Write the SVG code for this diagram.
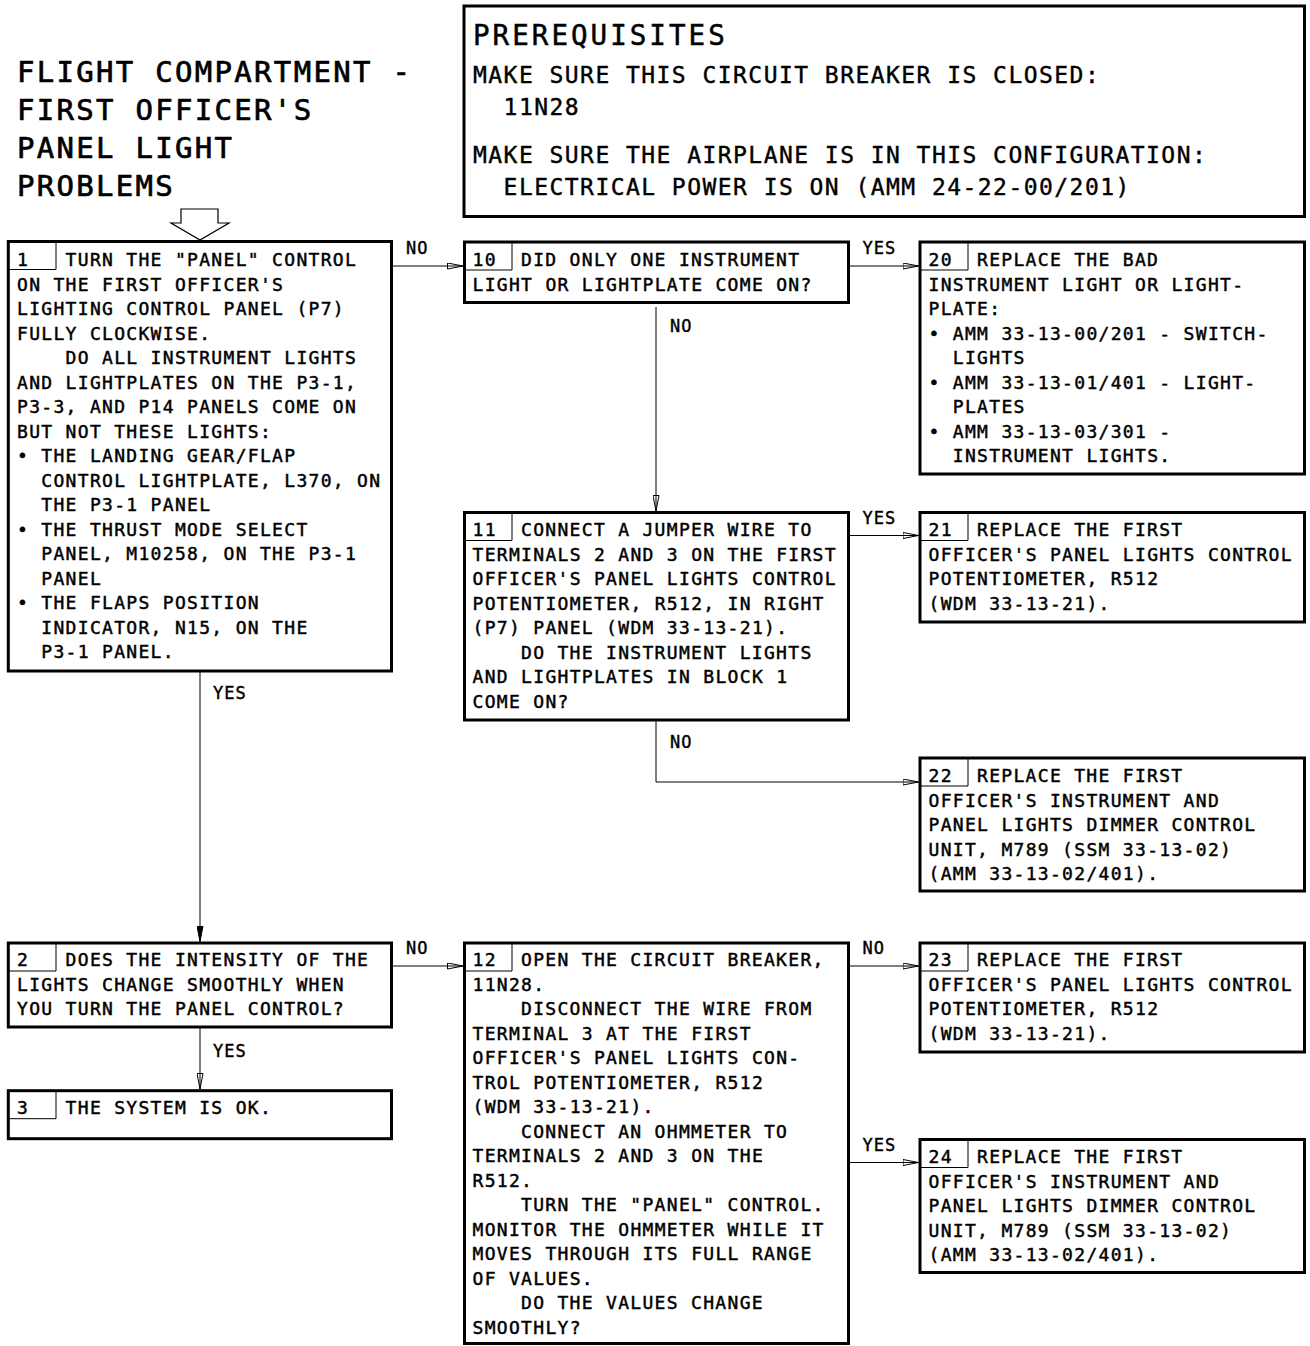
<svg xmlns="http://www.w3.org/2000/svg" width="1310" height="1346" viewBox="0 0 1310 1346">
<style>
.bg{fill:#fff}
.box{fill:none;stroke:#000;stroke-width:3}
.cell{fill:none;stroke:#000;stroke-width:1}
.t{font-family:"DejaVu Sans Mono",monospace;font-size:18px;letter-spacing:1.31px;fill:#000;stroke:#000;stroke-width:0.45px}
.h{font-family:"DejaVu Sans Mono",monospace;font-size:29px;letter-spacing:2.3px;fill:#000;stroke:#000;stroke-width:0.7px}
.ph{font-family:"DejaVu Sans Mono",monospace;font-size:27.5px;letter-spacing:3.04px;fill:#000;stroke:#000;stroke-width:0.5px}
.pb{font-family:"DejaVu Sans Mono",monospace;font-size:23px;letter-spacing:1.45px;fill:#000;stroke:#000;stroke-width:0.4px}
.l{font-family:"DejaVu Sans Mono",monospace;font-size:17px;letter-spacing:1px;fill:#000;stroke:#000;stroke-width:0.4px}
.c{fill:none;stroke:#000;stroke-width:1}
</style>
<defs>
<marker id="ah" viewBox="0 0 16 7" refX="16" refY="3.5" markerWidth="16" markerHeight="7" orient="auto" markerUnits="userSpaceOnUse">
<path d="M0.5,0.5 L16,3.5 L0.5,6.5 Z" fill="none" stroke="#000" stroke-width="1"/>
</marker>
<marker id="ahf" viewBox="0 0 16 7" refX="16" refY="3.5" markerWidth="16" markerHeight="7" orient="auto" markerUnits="userSpaceOnUse">
<path d="M0.5,0.5 L16,3.5 L0.5,6.5 Z" fill="#000" stroke="#000" stroke-width="1"/>
</marker>
</defs>
<rect class="bg" x="0" y="0" width="1310" height="1346"/>

<g id="title">
<text class="h" x="17" y="82">FLIGHT COMPARTMENT -</text>
<text class="h" x="17" y="120">FIRST OFFICER'S</text>
<text class="h" x="17" y="158">PANEL LIGHT</text>
<text class="h" x="17" y="195.5">PROBLEMS</text>
<polygon points="181,209 218,209 218,223 229,223 200,240 171,223 181,223" fill="#fff" stroke="#000" stroke-width="1.2"/>
</g>

<g id="prereq">
<rect class="box" x="464" y="6" width="840.5" height="210.5"/>
<text class="ph" x="473" y="45">PREREQUISITES</text>
<text class="pb" x="473" y="83">MAKE SURE THIS CIRCUIT BREAKER IS CLOSED:</text>
<text class="pb" x="503.6" y="115">11N28</text>
<text class="pb" x="473" y="163">MAKE SURE THE AIRPLANE IS IN THIS CONFIGURATION:</text>
<text class="pb" x="503.6" y="195">ELECTRICAL POWER IS ON (AMM 24-22-00/201)</text>
</g>

<g id="connectors">
<line class="c" x1="391.5" y1="266" x2="463" y2="266" marker-end="url(#ah)"/>
<text class="l" x="406" y="254">NO</text>
<line class="c" x1="848.5" y1="266" x2="918.5" y2="266" marker-end="url(#ah)"/>
<text class="l" x="862.5" y="254">YES</text>
<line class="c" x1="656" y1="307" x2="656" y2="511" marker-end="url(#ah)"/>
<text class="l" x="670" y="332">NO</text>
<line class="c" x1="848.5" y1="535.5" x2="918.5" y2="535.5" marker-end="url(#ah)"/>
<text class="l" x="862.5" y="524">YES</text>
<polyline class="c" points="656,720 656,782 918.5,782" marker-end="url(#ah)"/>
<text class="l" x="670" y="748">NO</text>
<line class="c" x1="200" y1="671" x2="200" y2="941.5" marker-end="url(#ahf)"/>
<text class="l" x="213" y="699">YES</text>
<line class="c" x1="200" y1="1027" x2="200" y2="1089" marker-end="url(#ah)"/>
<text class="l" x="213" y="1056.7">YES</text>
<line class="c" x1="391.5" y1="966" x2="463" y2="966" marker-end="url(#ah)"/>
<text class="l" x="406" y="954">NO</text>
<line class="c" x1="848.5" y1="966" x2="918.5" y2="966" marker-end="url(#ah)"/>
<text class="l" x="862.5" y="954">NO</text>
<line class="c" x1="848.5" y1="1162.5" x2="918.5" y2="1162.5" marker-end="url(#ah)"/>
<text class="l" x="862.5" y="1151">YES</text>
</g>

<g id="node1">
<rect class="box" x="8.3" y="241.5" width="383.2" height="429.5"/>
<path class="cell" d="M8.3,269.5 H56 V241.5"/>
<text class="t" x="17" y="266">1</text>
<text class="t" x="65.6" y="266">TURN THE "PANEL" CONTROL</text>
<text class="t" y="266">
<tspan x="17" dy="24.5">ON THE FIRST OFFICER'S</tspan>
<tspan x="17" dy="24.5">LIGHTING CONTROL PANEL (P7)</tspan>
<tspan x="17" dy="24.5">FULLY CLOCKWISE.</tspan>
<tspan x="65.6" dy="24.5">DO ALL INSTRUMENT LIGHTS</tspan>
<tspan x="17" dy="24.5">AND LIGHTPLATES ON THE P3-1,</tspan>
<tspan x="17" dy="24.5">P3-3, AND P14 PANELS COME ON</tspan>
<tspan x="17" dy="24.5">BUT NOT THESE LIGHTS:</tspan>
<tspan x="17" dy="24.5">•</tspan><tspan x="41.3">THE LANDING GEAR/FLAP</tspan>
<tspan x="41.3" dy="24.5">CONTROL LIGHTPLATE, L370, ON</tspan>
<tspan x="41.3" dy="24.5">THE P3-1 PANEL</tspan>
<tspan x="17" dy="24.5">•</tspan><tspan x="41.3">THE THRUST MODE SELECT</tspan>
<tspan x="41.3" dy="24.5">PANEL, M10258, ON THE P3-1</tspan>
<tspan x="41.3" dy="24.5">PANEL</tspan>
<tspan x="17" dy="24.5">•</tspan><tspan x="41.3">THE FLAPS POSITION</tspan>
<tspan x="41.3" dy="24.5">INDICATOR, N15, ON THE</tspan>
<tspan x="41.3" dy="24.5">P3-1 PANEL.</tspan>
</text>
</g>

<g id="node10">
<rect class="box" x="464.5" y="242" width="384" height="60.5"/>
<path class="cell" d="M464.5,270 H512 V242"/>
<text class="t" x="472.5" y="266">10</text>
<text class="t" x="521" y="266">DID ONLY ONE INSTRUMENT</text>
<text class="t" x="472.5" y="290.5">LIGHT OR LIGHTPLATE COME ON?</text>
</g>

<g id="node20">
<rect class="box" x="920" y="242" width="384.5" height="232"/>
<path class="cell" d="M920,270 H968 V242"/>
<text class="t" x="928.5" y="266">20</text>
<text class="t" x="977" y="266">REPLACE THE BAD</text>
<text class="t" y="266">
<tspan x="928.5" dy="24.5">INSTRUMENT LIGHT OR LIGHT-</tspan>
<tspan x="928.5" dy="24.5">PLATE:</tspan>
<tspan x="928.5" dy="24.5">•</tspan><tspan x="952.8">AMM 33-13-00/201 - SWITCH-</tspan>
<tspan x="952.8" dy="24.5">LIGHTS</tspan>
<tspan x="928.5" dy="24.5">•</tspan><tspan x="952.8">AMM 33-13-01/401 - LIGHT-</tspan>
<tspan x="952.8" dy="24.5">PLATES</tspan>
<tspan x="928.5" dy="24.5">•</tspan><tspan x="952.8">AMM 33-13-03/301 -</tspan>
<tspan x="952.8" dy="24.5">INSTRUMENT LIGHTS.</tspan>
</text>
</g>

<g id="node11">
<rect class="box" x="464.5" y="512.5" width="384" height="207.5"/>
<path class="cell" d="M464.5,540.5 H512 V512.5"/>
<text class="t" x="472.5" y="536">11</text>
<text class="t" x="521" y="536">CONNECT A JUMPER WIRE TO</text>
<text class="t" y="536">
<tspan x="472.5" dy="24.5">TERMINALS 2 AND 3 ON THE FIRST</tspan>
<tspan x="472.5" dy="24.5">OFFICER'S PANEL LIGHTS CONTROL</tspan>
<tspan x="472.5" dy="24.5">POTENTIOMETER, R512, IN RIGHT</tspan>
<tspan x="472.5" dy="24.5">(P7) PANEL (WDM 33-13-21).</tspan>
<tspan x="521" dy="24.5">DO THE INSTRUMENT LIGHTS</tspan>
<tspan x="472.5" dy="24.5">AND LIGHTPLATES IN BLOCK 1</tspan>
<tspan x="472.5" dy="24.5">COME ON?</tspan>
</text>
</g>

<g id="node21">
<rect class="box" x="920" y="512.5" width="384.5" height="109.5"/>
<path class="cell" d="M920,540.5 H968 V512.5"/>
<text class="t" x="928.5" y="536">21</text>
<text class="t" x="977" y="536">REPLACE THE FIRST</text>
<text class="t" y="536">
<tspan x="928.5" dy="24.5">OFFICER'S PANEL LIGHTS CONTROL</tspan>
<tspan x="928.5" dy="24.5">POTENTIOMETER, R512</tspan>
<tspan x="928.5" dy="24.5">(WDM 33-13-21).</tspan>
</text>
</g>

<g id="node22">
<rect class="box" x="920" y="758" width="384.5" height="133"/>
<path class="cell" d="M920,786 H968 V758"/>
<text class="t" x="928.5" y="782">22</text>
<text class="t" x="977" y="782">REPLACE THE FIRST</text>
<text class="t" y="782">
<tspan x="928.5" dy="24.5">OFFICER'S INSTRUMENT AND</tspan>
<tspan x="928.5" dy="24.5">PANEL LIGHTS DIMMER CONTROL</tspan>
<tspan x="928.5" dy="24.5">UNIT, M789 (SSM 33-13-02)</tspan>
<tspan x="928.5" dy="24.5">(AMM 33-13-02/401).</tspan>
</text>
</g>

<g id="node2">
<rect class="box" x="8.3" y="943" width="383.2" height="84"/>
<path class="cell" d="M8.3,971 H56 V943"/>
<text class="t" x="17" y="966">2</text>
<text class="t" x="65.6" y="966">DOES THE INTENSITY OF THE</text>
<text class="t" x="17" y="990.5">LIGHTS CHANGE SMOOTHLY WHEN</text>
<text class="t" x="17" y="1015">YOU TURN THE PANEL CONTROL?</text>
</g>

<g id="node3">
<rect class="box" x="8.3" y="1090.7" width="383.2" height="48"/>
<path class="cell" d="M8.3,1118.7 H56 V1090.7"/>
<text class="t" x="17" y="1113.5">3</text>
<text class="t" x="65.6" y="1113.5">THE SYSTEM IS OK.</text>
</g>

<g id="node12">
<rect class="box" x="464.5" y="943" width="384" height="400.5"/>
<path class="cell" d="M464.5,971 H512 V943"/>
<text class="t" x="472.5" y="966">12</text>
<text class="t" x="521" y="966">OPEN THE CIRCUIT BREAKER,</text>
<text class="t" y="966">
<tspan x="472.5" dy="24.5">11N28.</tspan>
<tspan x="521" dy="24.5">DISCONNECT THE WIRE FROM</tspan>
<tspan x="472.5" dy="24.5">TERMINAL 3 AT THE FIRST</tspan>
<tspan x="472.5" dy="24.5">OFFICER'S PANEL LIGHTS CON-</tspan>
<tspan x="472.5" dy="24.5">TROL POTENTIOMETER, R512</tspan>
<tspan x="472.5" dy="24.5">(WDM 33-13-21).</tspan>
<tspan x="521" dy="24.5">CONNECT AN OHMMETER TO</tspan>
<tspan x="472.5" dy="24.5">TERMINALS 2 AND 3 ON THE</tspan>
<tspan x="472.5" dy="24.5">R512.</tspan>
<tspan x="521" dy="24.5">TURN THE "PANEL" CONTROL.</tspan>
<tspan x="472.5" dy="24.5">MONITOR THE OHMMETER WHILE IT</tspan>
<tspan x="472.5" dy="24.5">MOVES THROUGH ITS FULL RANGE</tspan>
<tspan x="472.5" dy="24.5">OF VALUES.</tspan>
<tspan x="521" dy="24.5">DO THE VALUES CHANGE</tspan>
<tspan x="472.5" dy="24.5">SMOOTHLY?</tspan>
</text>
</g>

<g id="node23">
<rect class="box" x="920" y="943" width="384.5" height="109"/>
<path class="cell" d="M920,971 H968 V943"/>
<text class="t" x="928.5" y="966">23</text>
<text class="t" x="977" y="966">REPLACE THE FIRST</text>
<text class="t" y="966">
<tspan x="928.5" dy="24.5">OFFICER'S PANEL LIGHTS CONTROL</tspan>
<tspan x="928.5" dy="24.5">POTENTIOMETER, R512</tspan>
<tspan x="928.5" dy="24.5">(WDM 33-13-21).</tspan>
</text>
</g>

<g id="node24">
<rect class="box" x="920" y="1139.5" width="384.5" height="133"/>
<path class="cell" d="M920,1167.5 H968 V1139.5"/>
<text class="t" x="928.5" y="1163">24</text>
<text class="t" x="977" y="1163">REPLACE THE FIRST</text>
<text class="t" y="1163">
<tspan x="928.5" dy="24.5">OFFICER'S INSTRUMENT AND</tspan>
<tspan x="928.5" dy="24.5">PANEL LIGHTS DIMMER CONTROL</tspan>
<tspan x="928.5" dy="24.5">UNIT, M789 (SSM 33-13-02)</tspan>
<tspan x="928.5" dy="24.5">(AMM 33-13-02/401).</tspan>
</text>
</g>
</svg>
